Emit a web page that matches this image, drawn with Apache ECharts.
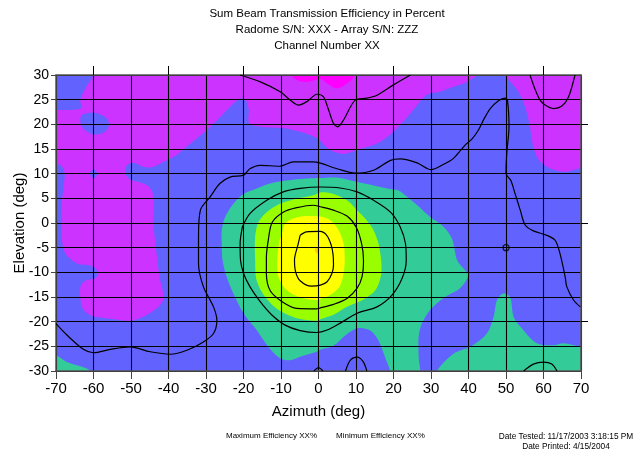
<!DOCTYPE html>
<html lang="en">
<head>
<meta charset="UTF-8">
<script src="https://cdn.jsdelivr.net/npm/echarts@6/dist/echarts.min.js"></script>
<title>Sum Beam Transmission Efficiency</title>
<style>
    html, body { margin: 0; padding: 0; background: #fff; }
    #chart { width: 641px; height: 453px; }
</style>
</head>
<body>
<div id="chart"></div>
<script>
// filled contour regions, [azimuth, elevation]
const purpleMain = [[-60,32],[43,32],[42.2,30],[39.6,28.6],[36,27.6],[32.4,26.6],[28.9,26],[24.5,22.2],[20,18.5],[15.6,16.1],[10.2,14.8],[6.7,14],[3.1,14.8],[-0.4,17.2],[-4.9,18.5],[-9.3,19.2],[-15.5,19.5],[-18.5,20.2],[-18.6,22.9],[-19.3,24.8],[-20.9,25.3],[-22.5,24.3],[-26.2,21.5],[-29.8,18.8],[-34.2,16.1],[-37.8,13.8],[-41.3,12.4],[-44.4,11.3],[-46.7,11.4],[-49.3,12.2],[-51.1,11.7],[-51.5,10],[-50.2,8.8],[-45.8,7.7],[-44.2,6],[-44,-0.1],[-43.5,-4.1],[-42.4,-10.9],[-41.3,-15.3],[-43.1,-17.3],[-46.7,-19],[-50.2,-19.8],[-55.5,-19.4],[-60.9,-18.7],[-63.1,-17],[-63.5,-12.9],[-62.2,-11.7],[-59.5,-11.2],[-58.9,-9.9],[-60.4,-8.7],[-64.4,-8.2],[-67.5,-6.2],[-68.4,-3.5],[-68.6,2.6],[-68.4,4.6],[-68,7.3],[-67.7,10],[-68.5,11.5],[-70,12.1],[-72,12.3],[-72,22.9],[-70,22.9],[-63.5,23.2],[-63.5,25],[-62,27.5],[-60,30]];
const blueHole1 = [[-63.1,21.9],[-60,22.4],[-56.9,21.5],[-55.8,19.9],[-57.3,18.3],[-60.4,18],[-62.8,19.2],[-63.5,20.5]];
const blueHole2 = [[-60,10.9],[-59,10],[-60,9.1],[-61,10]];
const purpleRight = [[49.8,32],[72,32],[72,11.1],[69.8,11.1],[66.2,10.4],[63.1,10.7],[60.9,11.4],[58.7,12.8],[57.5,14.8],[56.9,16.8],[56.4,19.5],[55.7,21.9],[54.7,24.3],[53.3,26.6],[51.6,28.3],[49.8,30]];
const magentaTop = [[-7.2,32],[10,32],[9.8,30],[7.6,28.3],[4.9,27.3],[2.5,28.2],[0.5,29.2],[-3.1,28.6],[-5.8,29],[-7.2,30]];
const tealCorner = [[-72,-26.8],[-70,-26.8],[-67.1,-28.2],[-61.8,-29.5],[-61,-30],[-61,-32],[-72,-32]];
const tealMain = [[-3.2,9],[0.4,9.1],[4.8,9.2],[10.3,8.3],[14.7,7.6],[18.3,7],[21.4,6.6],[23.6,5.3],[26.3,3.6],[29.8,1.2],[33.4,-0.8],[35.6,-3.2],[37,-7.6],[39.1,-9.6],[40,-10.6],[37.8,-13.2],[33.4,-15.2],[29.8,-17.6],[27.6,-20.3],[26.7,-23],[26.7,-27.1],[26.8,-32],[19.3,-32],[19.1,-30],[17.7,-27.1],[16,-23.8],[13.8,-21.8],[10.7,-21.3],[7.6,-22.5],[4,-24.9],[0.5,-25.7],[-0.5,-26.1],[-4.9,-27.1],[-7.6,-27.8],[-10.3,-27.4],[-13.4,-25.1],[-16.5,-21.7],[-20,-18.3],[-22.7,-14.3],[-24.5,-10.9],[-25.6,-7.5],[-25.8,-4],[-25.8,-1.5],[-24.9,1.2],[-22.7,3.9],[-20,5.9],[-16.5,7],[-12.9,8],[-8.5,8.6]];
const tealRight = [[31.6,-32],[31.6,-30],[36,-26.5],[40.5,-25.1],[44.9,-22.4],[46.7,-19],[47.6,-15.6],[49.3,-14.3],[51.1,-15],[52,-19],[53.8,-21],[58.2,-24.4],[62.7,-24.8],[65.3,-24.4],[69.8,-25.1],[72,-25.2],[72,-32]];
const greenCore = [[-1.4,5.6],[0.5,6.2],[4,5.9],[7.6,4.6],[10.3,2.6],[12.9,0.5],[14.7,-1.5],[16,-4.2],[16.7,-7.6],[16.7,-10.5],[15.2,-13.6],[12,-15.5],[7.6,-17],[4,-18.6],[0.5,-19.5],[-0.5,-19.8],[-5.8,-19.3],[-10.7,-17.6],[-14.3,-14.9],[-16.5,-11.6],[-16.9,-7.5],[-16.9,-2.8],[-16,0.2],[-13.8,2.2],[-10.3,3.9],[-5.8,4.9]];
const yellowCore = [[-3.2,1.4],[0.5,1.3],[3.2,0.5],[5.4,-1.5],[6.7,-4.2],[7,-7.5],[6.7,-10.2],[5.6,-12.9],[3.1,-14.6],[0.5,-15.4],[-0.5,-15.6],[-4.9,-15.1],[-8.5,-13.6],[-10.7,-10.9],[-11,-7.5],[-10.5,-4],[-9.8,-2.2],[-8.9,-0.1],[-6.7,0.9]];
const orangeSpot = [[-0.4,-4.8],[0.2,-5.5],[-0.4,-6.2],[-1,-5.5]];

// black contour lines
const lineTop = [[-20.9,30],[-15.5,28.6],[-10.2,26.6],[-7.5,24.9],[-5.3,23.9],[-3.1,24.6],[-0.4,26.1],[1.3,25.6],[2.7,22.9],[4,20.2],[5.1,19.5],[6.7,20.9],[9.8,24.9],[12.9,25.3],[15.6,25.9],[20,28],[24.5,30]];
const lineWide = [[-70,-20.4],[-67.1,-22.7],[-62.7,-25.6],[-60,-26.3],[-55.5,-25.6],[-50.2,-25.1],[-44.9,-26.1],[-39.5,-26.6],[-35.1,-25.8],[-30.7,-24.1],[-28,-22.4],[-27.1,-19.7],[-28,-17],[-30.7,-12.9],[-32,-8.2],[-32,-2.8],[-31.5,2.6],[-28.9,5.3],[-26.3,8],[-23.6,9.3],[-20,9.7],[-18.3,11],[-15.6,11.7],[-10.3,11.5],[-6.7,12.4],[-1.4,12.4],[4.9,11],[9.8,10.1],[14.7,10.7],[19.2,12.7],[21.8,13],[26.3,12.2],[30,10.8],[33.4,11.9],[36,13.1],[39.1,15.8],[40.9,17],[42.7,18.9],[44,20.9],[45.8,23.2],[48,24.8],[49.8,25.3],[50.4,24.8],[50.8,19.5],[50.2,14.1],[50,10.1],[51.3,8.6],[52.4,6],[53.8,2.6],[55.1,-0.4],[57.3,-1.6],[60.9,-2.5],[63.1,-3.5],[64.4,-6.2],[65.8,-11],[66.2,-12.9],[68,-15.6],[69.8,-17]];
const lineRight = [[56.4,30],[57.8,27],[59.1,24.9],[60.4,23.9],[62.7,23.2],[64.9,23.7],[66.7,25.6],[68.4,30]];
const ring1 = [[-20.3,-0.8],[-18.3,1.9],[-13.8,4.6],[-9.4,6.3],[-4.9,7],[0.4,7.3],[5.8,7.1],[10.3,6.3],[14.7,4.6],[19.2,2.2],[21.8,-0.8],[23.2,-4.2],[23.4,-7.6],[22.3,-11.2],[19.6,-14.6],[15.6,-17],[10.3,-18.3],[5.8,-20.3],[2.3,-21.7],[-0.5,-22.2],[-4.9,-21.8],[-8.9,-20.7],[-12.5,-18.6],[-15.6,-15.9],[-18.3,-12.9],[-20,-10.2],[-20.8,-7.5],[-20.9,-4.2],[-20.3,-0.8]];
const ring2 = [[-13.3,-3],[-12.3,0.2],[-9.4,2.2],[-5.8,3.1],[-1.4,3.6],[0.5,3.3],[4,2.6],[7.6,1.4],[10.1,-0.9],[11.5,-4.2],[12,-7.6],[11.6,-10.9],[10.3,-13.2],[7.6,-15.3],[4,-16.5],[0.5,-17.2],[-0.5,-17.4],[-5.8,-17.3],[-9.8,-15.9],[-12.9,-13.7],[-13.9,-10.2],[-13.9,-7],[-13.3,-3]];
const ring3 = [[-4.9,-2.5],[-3.2,-1.8],[0.4,-1.7],[2.2,-2.5],[3.4,-4.5],[3.9,-6.5],[4,-8.5],[3.6,-10.2],[2.3,-11.9],[0.5,-12.6],[-1.9,-12.8],[-4.9,-11.7],[-6.1,-9.9],[-6.4,-7.5],[-5.4,-4.2],[-4.9,-2.5]];
const arcMid = [[7.2,-30],[8.5,-27.8],[10.3,-27.2],[11.9,-28.1],[12.9,-30]];
const arcRight = [[54.7,-30],[57.3,-28.6],[60,-28.2],[62.2,-28.6],[63.6,-30]];
const arcZero = [[-1.2,-30],[0,-29.3],[1.2,-30]];
const markerPoint = [[50,-5]];

const topTicks = [-60, -40, -20, 0, 20, 40, 60];
const rightTicks = [-20, 0, 20];

const chart = echarts.init(document.getElementById('chart'));

const FONT = "'Liberation Sans', Arial, sans-serif";

function area(points, color) {
    return {
        type: 'custom',
        coordinateSystem: 'cartesian2d',
        data: points,
        clip: true,
        silent: true,
        z: 1,
        renderItem: function (params, api) {
            if (params.dataIndex !== 0) return;
            const pts = points.map(p => api.coord(p));
            return {
                type: 'polygon',
                shape: { points: pts, smooth: 0.3 },
                style: { fill: color, stroke: null }
            };
        }
    };
}

function contour(points) {
    return {
        type: 'line',
        data: points,
        smooth: 0.3,
        symbol: 'none',
        silent: true,
        z: 4,
        lineStyle: { color: '#000', width: 1.2 }
    };
}

const options = {
    animation: false,
    grid: {
        left: 56, right: 60, top: 75, bottom: 82,
        outerBoundsMode: 'none', containLabel: false,
        show: true, backgroundColor: '#6262FF', borderWidth: 0
    },
    xAxis: [
        {
            type: 'value', min: -70, max: 70, interval: 10, position: 'bottom', z: 3,
            name: 'Azimuth (deg)', nameLocation: 'middle', nameGap: 33, nameMoveOverlap: false,
            nameTextStyle: { fontFamily: FONT, fontSize: 15, color: '#000' },
            axisLine: { show: true, onZero: false, lineStyle: { color: '#555', width: 1.5 } },
            axisTick: { show: true, length: 8, lineStyle: { color: '#444' } },
            axisLabel: { fontFamily: FONT, fontSize: 15, color: '#000', margin: 10 },
            splitLine: { show: true, lineStyle: { color: '#000', width: 1.1 } }
        },
        {
            type: 'value', min: -70, max: 70, interval: 10, position: 'top', z: 3,
            axisLine: { show: true, onZero: false, lineStyle: { color: '#555', width: 1.5 } },
            axisTick: { show: true, customValues: topTicks, length: 9, lineStyle: { color: '#000' } },
            axisLabel: { show: false },
            splitLine: { show: false }
        }
    ],
    yAxis: [
        {
            type: 'value', min: -30, max: 30, interval: 5, position: 'left', z: 3,
            name: 'Elevation (deg)', nameLocation: 'middle', nameGap: 29, nameMoveOverlap: false,
            nameTextStyle: { fontFamily: FONT, fontSize: 15, color: '#000' },
            axisLine: { show: true, onZero: false, lineStyle: { color: '#555', width: 1.5 } },
            axisTick: { show: true, length: 5, lineStyle: { color: '#444' } },
            axisLabel: { fontFamily: FONT, fontSize: 14, color: '#000', margin: 7 },
            splitLine: { show: true, lineStyle: { color: '#000', width: 1.1 } }
        },
        {
            type: 'value', min: -30, max: 30, interval: 5, position: 'right', z: 3,
            axisLine: { show: true, onZero: false, lineStyle: { color: '#555', width: 1.5 } },
            axisTick: { show: true, customValues: rightTicks, length: 7, lineStyle: { color: '#000' } },
            axisLabel: { show: false },
            splitLine: { show: false }
        }
    ],
    graphic: [
        { type: 'text', x: 327, y: 6, z: 10, style: { text: 'Sum Beam Transmission Efficiency in Percent\nRadome S/N: XXX - Array S/N: ZZZ\nChannel Number XX', align: 'center', verticalAlign: 'top', fontFamily: FONT, fontSize: 11.5, lineHeight: 16, fill: '#000' } },
        { type: 'text', x: 226, y: 432, z: 10, style: { text: 'Maximum Efficiency XX%', verticalAlign: 'top', fontFamily: FONT, fontSize: 8, fill: '#000' } },
        { type: 'text', x: 336, y: 432, z: 10, style: { text: 'Minimum Efficiency XX%', verticalAlign: 'top', fontFamily: FONT, fontSize: 8, fill: '#000' } },
        { type: 'text', x: 566, y: 432, z: 10, style: { text: 'Date Tested: 11/17/2003 3:18:15 PM\nDate Printed: 4/15/2004', align: 'center', verticalAlign: 'top', fontFamily: FONT, fontSize: 8.3, lineHeight: 10, fill: '#000' } }
    ],
    series: [
        area(purpleMain, '#CC33FF'),
        area(blueHole1, '#6262FF'),
        area(blueHole2, '#6262FF'),
        area(purpleRight, '#CC33FF'),
        area(magentaTop, '#FF00FF'),
        area(tealCorner, '#33CC99'),
        area(tealMain, '#33CC99'),
        area(tealRight, '#33CC99'),
        area(greenCore, '#99FF00'),
        area(yellowCore, '#FFFF00'),
        area(orangeSpot, '#FFCC00'),
        contour(lineTop),
        contour(lineWide),
        contour(lineRight),
        contour(ring1),
        contour(ring2),
        contour(ring3),
        contour(arcMid),
        contour(arcRight),
        contour(arcZero),
        {
            type: 'scatter', data: markerPoint, symbol: 'circle', symbolSize: 6, z: 4, silent: true,
            itemStyle: { color: 'rgba(0,0,0,0)', borderColor: '#000', borderWidth: 1.2 }
        }
    ]
};

chart.setOption(options);
</script>
</body>
</html>
